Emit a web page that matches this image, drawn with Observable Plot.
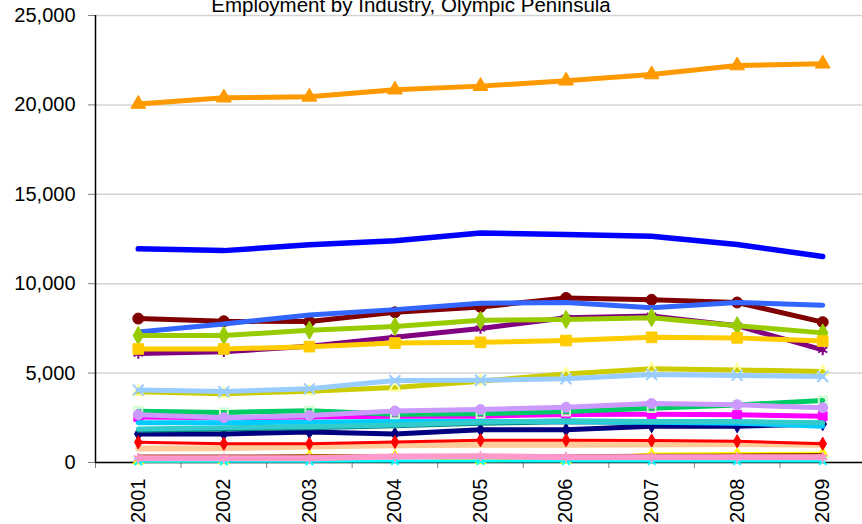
<!DOCTYPE html>
<html>
<head>
<meta charset="utf-8">
<script src="https://cdn.jsdelivr.net/npm/d3@7"></script>
<script src="https://cdn.jsdelivr.net/npm/@observablehq/plot@0.6"></script>
<style>
  html, body { margin: 0; padding: 0; background: #fff; }
  #chart svg { overflow: hidden; }
</style>
</head>
<body>
<div id="chart"></div>
<script>
const title = "Employment by Industry, Olympic Peninsula";
const years = [2001, 2002, 2003, 2004, 2005, 2006, 2007, 2008, 2009];
const yTicks = [0, 5000, 10000, 15000, 20000, 25000];

// series values (drawing order = Excel series order)
const navy       = [1600, 1600, 1700, 1600, 1830, 1830, 2030, 2030, 2150];
const magenta    = [2550, 2500, 2550, 2590, 2590, 2690, 2700, 2670, 2590];
const yellow     = [90, 100, 390, 380, 100, 120, 470, 500, 520];
const aqua       = [70, 70, 70, 80, 80, 80, 80, 80, 80];
const purple     = [6100, 6200, 6500, 7000, 7500, 8100, 8200, 7650, 6300];
const darkRed    = [8050, 7900, 7880, 8400, 8700, 9200, 9100, 8950, 7850];
const darkTeal   = [1800, 1880, 1950, 2050, 2200, 2280, 2250, 2250, 2200];
const blue       = [11950, 11850, 12180, 12400, 12840, 12750, 12660, 12190, 11520];
const skyBlue    = [2220, 2230, 2250, 2300, 2300, 2300, 2250, 2200, 2030];
const brown      = [390, 390, 400, 400, 400, 410, 430, 450, 480];
const green      = [2870, 2800, 2900, 2700, 2720, 2850, 3040, 3220, 3470];
const olive      = [3950, 3850, 3980, 4200, 4550, 4950, 5250, 5180, 5090];
const lightBlue  = [4050, 3970, 4120, 4580, 4600, 4680, 4920, 4870, 4810];
const pink       = [240, 240, 240, 340, 350, 300, 300, 290, 290];
const lavender   = [2670, 2500, 2630, 2880, 2960, 3090, 3300, 3230, 3060];
const peach      = [780, 800, 900, 960, 990, 990, 1000, 1040, 990];
const red        = [1130, 1050, 1050, 1150, 1250, 1250, 1230, 1190, 1050];
const royalBlue  = [7300, 7750, 8250, 8550, 8900, 8950, 8650, 8950, 8800];
const teal       = [1870, 1950, 2000, 2100, 2250, 2330, 2290, 2290, 2220];
const yellowGreen= [7100, 7100, 7400, 7600, 7950, 8000, 8100, 7650, 7250];
const gold       = [6350, 6350, 6480, 6680, 6720, 6820, 7000, 6970, 6790];
const orange     = [20050, 20400, 20450, 20850, 21050, 21350, 21700, 22200, 22300];

// style table built from the arrays above
const series = [
  {v: navy,        line: "#000080", w: 5,   sym: "diamond",   mk: "#000080", r: 4,  fill: true},
  {v: magenta,     line: "#FF00FF", w: 5,   sym: "square",    mk: "#FF00FF", r: 5,  fill: true},
  {v: yellow,      line: "#FFFF00", w: 3,   sym: "triangle",  mk: "#FFFF00", r: 4,  fill: true},
  {v: aqua,        line: "#00FFFF", w: 3,   sym: "times",     mk: "#00FFFF", r: 3.5,fill: false},
  {v: purple,      line: "#800080", w: 5,   sym: "asterisk",  mk: "#800080", r: 5,  fill: false},
  {v: darkRed,     line: "#800000", w: 5,   sym: "circle",    mk: "#800000", r: 5.5,fill: true},
  {v: darkTeal,    line: "#008080", w: 5,   sym: null},
  {v: blue,        line: "#0000FF", w: 5.5, sym: null},
  {v: skyBlue,     line: "#00CCFF", w: 5,   sym: null},
  {v: brown,       line: "#993300", w: 2,   sym: null},
  {v: green,       line: "#00CC66", w: 5,   sym: "square2",   mk: "#CCFFCC", r: 5,  fill: false},
  {v: olive,       line: "#CCCC00", w: 5,   sym: "triangle2", mk: "#FFFF99", r: 5,  fill: false},
  {v: lightBlue,   line: "#99CCFF", w: 5,   sym: "times",     mk: "#99CCFF", r: 5,  fill: false},
  {v: pink,        line: "#FF99CC", w: 6,   sym: "asterisk",  mk: "#FF99CC", r: 5,  fill: false},
  {v: lavender,    line: "#CC99FF", w: 5,   sym: "circle",    mk: "#CC99FF", r: 5,  fill: true},
  {v: peach,       line: "#FFCC99", w: 6,   sym: null},
  {v: red,         line: "#FF0000", w: 3,   sym: "diamond",   mk: "#FF0000", r: 4,  fill: true},
  {v: royalBlue,   line: "#3366FF", w: 5,   sym: null},
  {v: teal,        line: "#33CCCC", w: 5,   sym: null},
  {v: yellowGreen, line: "#99CC00", w: 5,   sym: "diamond",   mk: "#99CC00", r: 5.5,fill: true},
  {v: gold,        line: "#FFCC00", w: 5,   sym: "square",    mk: "#FFCC00", r: 6,  fill: true},
  {v: orange,      line: "#FF9900", w: 5,   sym: "triangle",  mk: "#FF9900", r: 5.5,fill: true}
];

const marks = [
  Plot.gridY(yTicks, {stroke: "#d4d4d4", strokeOpacity: 1, strokeWidth: 1.5}),
  Plot.axisY(yTicks, {tickFormat: d3.format(","), fontSize: 20, tickSize: 7, tickPadding: 13, stroke: "#808080", color: "#000", label: null}),
  Plot.axisX(d3.range(2000.5, 2010, 1), {tickSize: 6, stroke: "#808080", tickFormat: () => "", label: null}),
  Plot.axisX(years, {tickSize: 0, tickRotate: -90, tickPadding: 16, fontSize: 20, tickFormat: d => String(d), color: "#000", label: null}),
  Plot.ruleY([0], {stroke: "#000", strokeWidth: 1.5}),
  Plot.ruleX([2000.5], {y1: 0, y2: 25000, stroke: "#000", strokeWidth: 1.5})
];

for (const s of series) {
  const rows = years.map((yr, i) => ({year: yr, value: s.v[i]}));
  marks.push(Plot.line(rows, {x: "year", y: "value", stroke: s.line, strokeWidth: s.w, strokeLinejoin: "round", strokeLinecap: "round"}));
  if (s.sym) {
    marks.push(Plot.dot(rows, s.fill
      ? {x: "year", y: "value", symbol: () => s.sym, r: s.r, fill: s.mk, stroke: s.mk, strokeWidth: 1}
      : {x: "year", y: "value", symbol: () => s.sym, r: s.r, fill: "none", stroke: s.mk, strokeWidth: 2}));
  }
}

marks.push(Plot.text([title], {frameAnchor: "top", dx: -68, dy: -4, lineAnchor: "bottom", fontSize: 20.5, fill: "#000"}));

const chart = Plot.plot({
  width: 862,
  height: 524,
  marginTop: 15,
  marginBottom: 62,
  marginLeft: 95,
  marginRight: 0,
  style: {fontFamily: "'Liberation Sans', Arial, sans-serif", background: "#fff", overflow: "hidden"},
  x: {type: "linear", domain: [2000.5, 2009.5], range: [95, 865]},
  y: {domain: [0, 25000]},
  symbol: {type: "identity"},
  marks
});
document.getElementById("chart").append(chart);
</script>
</body>
</html>
